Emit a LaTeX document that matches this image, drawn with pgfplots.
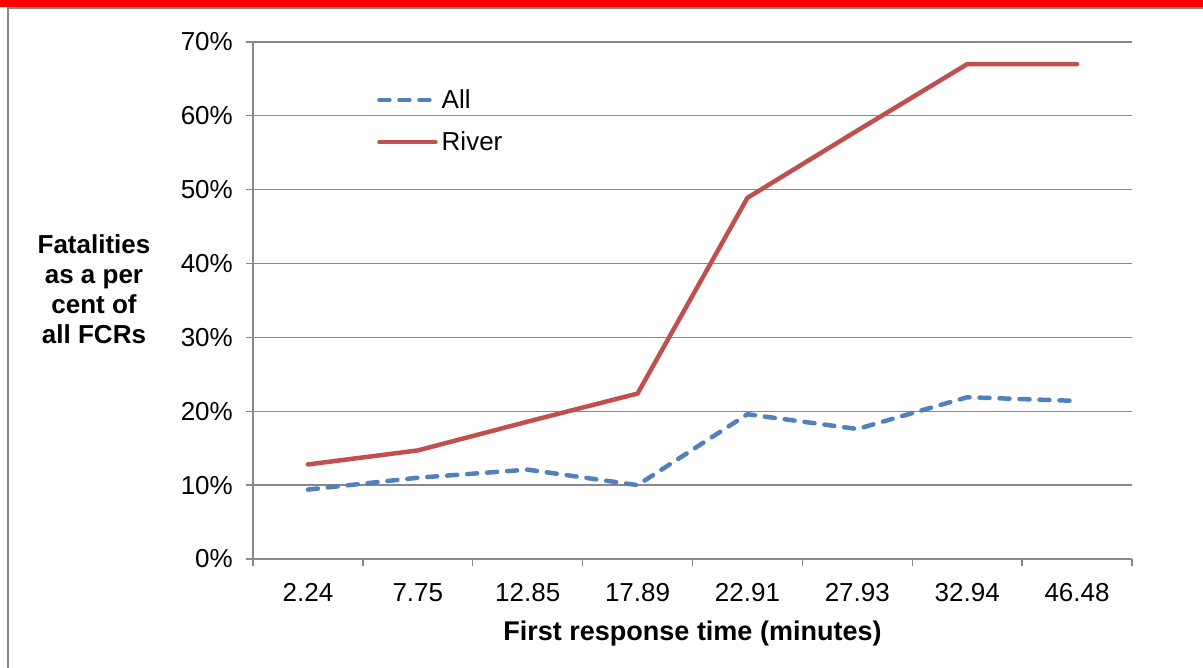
\documentclass[border=0pt]{standalone}
\usepackage{fontspec}
\setmainfont{Liberation Sans}
\usepackage{pgfplots}
\pgfplotsset{compat=1.18}
\definecolor{allblue}{HTML}{4F81BD}
\definecolor{riverred}{HTML}{C0504D}
\definecolor{gridgray}{HTML}{888888}
\begin{document}
\begin{tikzpicture}
\useasboundingbox (0,0) rectangle (1203pt,668pt);
\fill[red] (0,661pt) rectangle (1203pt,668pt);
\draw[gridgray, line width=1.5pt] (8pt,0) -- (8pt,660pt) -- (1203pt,660pt);
\begin{axis}[
  at={(253pt,109pt)}, anchor=south west,
  width=879pt, height=517pt, scale only axis,
  xmin=-0.5, xmax=7.5, ymin=0, ymax=70,
  axis x line*=bottom, axis y line*=left,
  axis line style={gridgray, line width=1.3pt},
  tick align=outside,
  xtick={0,...,7},
  xticklabels={2.24,7.75,12.85,17.89,22.91,27.93,32.94,46.48},
  major x tick style={draw=none},
  minor xtick={-0.5,0.5,...,7.5},
  minor tick length=7pt,
  major tick length=7pt,
  every tick/.style={gridgray, line width=1.3pt},
  minor x tick style={gridgray, line width=1.3pt},
  ytick={0,10,...,70},
  yticklabels={0\%,10\%,20\%,30\%,40\%,50\%,60\%,70\%},
  ymajorgrids,
  grid style={gridgray, line width=1.3pt},
  ticklabel style={font=\fontsize{26}{30}\selectfont, inner sep=0pt},
  xticklabel style={anchor=base, yshift=-36pt},
  yticklabel style={anchor=east, xshift=-13pt},
  legend style={at={(0.1411,0.8472)}, anchor=west, draw=none, fill=none,
    inner sep=0pt, row sep=22pt, column sep=4pt,
    font=\fontsize{26}{30}\selectfont, nodes={inner sep=0pt}},
  legend cell align=left,
  legend image code/.code={\draw[#1] (0pt,0pt) -- (56pt,0pt);},
]
\addplot[allblue, line width=4.5pt, dash pattern=on 10pt off 10pt, line cap=round, line join=round]
  coordinates {(0,9.4) (1,11.0) (2,12.1) (3,10.0) (4,19.6) (5,17.6) (6,21.9) (7,21.4)};
\addlegendentry{All}
\addplot[riverred, line width=4.5pt, line cap=round, line join=round]
  coordinates {(0,12.8) (1,14.7) (2,18.6) (3,22.4) (4,48.9) (5,58.0) (6,67.0) (7,67.0)};
\addlegendentry{River}
\end{axis}
\node[align=center, font=\fontsize{26}{30}\selectfont\bfseries] at (94pt,378.5pt)
  {Fatalities\\as a per\\cent of\\all FCRs};
\node[anchor=base, font=\fontsize{27}{30}\selectfont\bfseries] at (692.5pt,27pt)
  {First response time (minutes)};
\end{tikzpicture}
\end{document}
